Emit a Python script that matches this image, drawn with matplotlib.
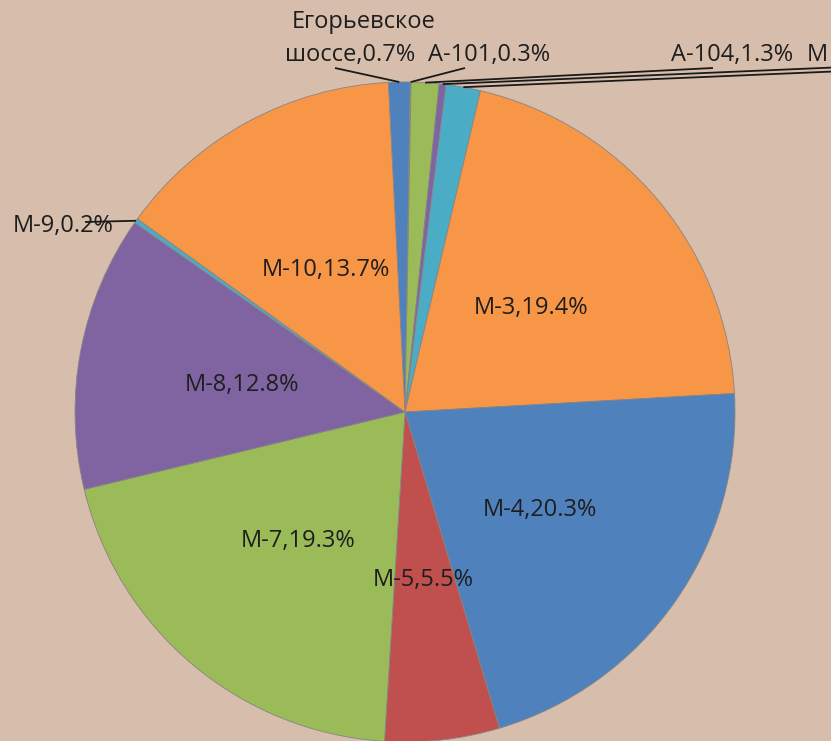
import matplotlib
matplotlib.use("Agg")
import matplotlib.pyplot as plt
import numpy as np

plt.rcParams['font.family'] = ['Open Sans', 'DejaVu Sans']

# ---- data (clockwise from the top) ----
names = ["Егорьевское шоссе", "А-101", "А-104", "М", "М",
         "М-3", "М-4", "М-5", "М-7", "М-8", "М-9", "М-10"]
# slice sizes as drawn (share of the circle, %)
shares = [1.06, 0.04, 1.36, 0.33, 1.69,
          20.44, 21.28, 5.61, 20.25, 13.50, 0.22, 14.25]
# percentages printed in the data labels
pct_text = ["0.7%", "0.3%", "1.3%", "", "",
            "19.4%", "20.3%", "5.5%", "19.3%", "12.8%", "0.2%", "13.7%"]

colors = ["#4F81BD", "#C0504D", "#9BBB59", "#8064A2", "#4BACC6", "#F79646",
          "#4F81BD", "#C0504D", "#9BBB59", "#8064A2", "#4BACC6", "#F79646"]

W, H = 831, 741
fig = plt.figure(figsize=(W / 100, H / 100), dpi=100)
fig.patch.set_facecolor("#D7BDAB")
ax = fig.add_axes([0, 0, 1, 1])
ax.set_facecolor("#D7BDAB")


def py(y):
    return H - y


cx, cy, R = 405, py(412), 330
wedges, _ = ax.pie(shares, colors=colors, startangle=92.9, counterclock=False,
                   center=(cx, cy), radius=R,
                   wedgeprops=dict(edgecolor="#858585", linewidth=0.6))
ax.set_xlim(0, W)
ax.set_ylim(0, H)
ax.set_aspect("equal")
ax.axis("off")

txt_kw = dict(fontsize=17, color="#1E1E1E")

# inside labels (px positions of label centres)
inside = {5: (531, 308), 6: (540, 510), 7: (423, 580), 8: (298, 541),
          9: (242, 385), 11: (326, 270)}
for i, (x, y) in inside.items():
    ax.text(x, py(y), f"{names[i]},{pct_text[i]}", ha="center", va="center", **txt_kw)


def edge_mid(i):
    w = wedges[i]
    a = np.deg2rad((w.theta1 + w.theta2) / 2)
    return cx + R * np.cos(a), cy + R * np.sin(a)


lk = dict(color="#1A1A1A", lw=1.3, solid_capstyle="butt", zorder=5)

# outside labels and leader lines
ax.text(364, py(22), "Егорьевское", ha="center", va="center", **txt_kw)
ax.text(350, py(55), f"шоссе,{pct_text[0]}", ha="center", va="center", **txt_kw)
x0, y0 = edge_mid(0)
ax.plot([x0, 335], [y0, py(68)], **lk)

ax.text(489, py(55), f"{names[1]},{pct_text[1]}", ha="center", va="center", **txt_kw)
x0, y0 = edge_mid(1)
ax.plot([x0, 465], [y0, py(68)], **lk)

ax.text(732, py(55), f"{names[2]},{pct_text[2]}", ha="center", va="center", **txt_kw)
x0, y0 = edge_mid(2)
ax.plot([x0, 713], [y0, py(68)], **lk)

ax.text(807, py(55), names[3], ha="left", va="center", **txt_kw)
x0, y0 = edge_mid(3)
ax.plot([x0, 845], [y0, py(67)], **lk)
x0, y0 = edge_mid(4)
ax.plot([x0, 845], [y0, py(71)], **lk)

ax.text(13, py(226), f"{names[10]},{pct_text[10]}", ha="left", va="center", **txt_kw)
x0, y0 = edge_mid(10)
ax.plot([x0, 85], [y0, py(222)], **lk)

fig.savefig("out.png", dpi=100, facecolor=fig.get_facecolor())
